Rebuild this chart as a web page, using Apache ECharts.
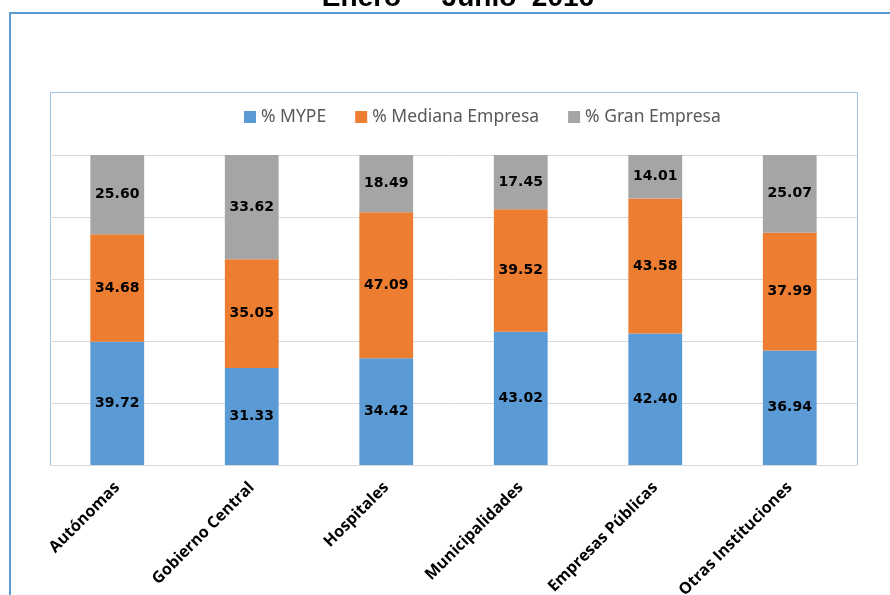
<!DOCTYPE html>
<html>
<head>
<meta charset="utf-8">
<script src="https://cdn.jsdelivr.net/npm/echarts@6/dist/echarts.min.js"></script>
<style>html,body{margin:0;padding:0;background:#fff}#c{width:890px;height:595px}</style>
</head>
<body>
<div id="c"></div>
<script>
var categories = ['Autónomas', 'Gobierno Central', 'Hospitales', 'Municipalidades', 'Empresas Públicas', 'Otras Instituciones'];
var mype = [39.72, 31.33, 34.42, 43.02, 42.40, 36.94];
var mediana = [34.68, 35.05, 47.09, 39.52, 43.58, 37.99];
var gran = [25.60, 33.62, 18.49, 17.45, 14.01, 25.07];
var seriesNames = ['% MYPE', '% Mediana Empresa', '% Gran Empresa'];
var titleText = 'Enero  -  Junio  2016';

var chart = echarts.init(document.getElementById('c'));
var labelStyle = {
  show: true, position: 'inside', color: '#000', fontWeight: 'bold',
  fontFamily: 'DejaVu Sans', fontSize: 14,
  formatter: function (p) { return p.value.toFixed(2); }
};
function mk(name, data, color) {
  return { name: name, type: 'bar', stack: 'total', data: data, barWidth: '40%',
    itemStyle: { color: color }, label: labelStyle };
}
chart.setOption({
  animation: false,
  graphic: [
    { type: 'rect', shape: { x: 10, y: 13, width: 900, height: 600 }, style: { fill: 'none', stroke: '#5b9bd5', lineWidth: 2 }, z: -1 },
    { type: 'polyline', shape: { points: [[50.5, 465], [50.5, 92.5], [857.5, 92.5], [857.5, 465]] }, style: { fill: 'none', stroke: '#9dc3e6', lineWidth: 1 }, z: -1 },
    { type: 'text', style: { text: titleText, x: 458, y: -16, textAlign: 'center', textVerticalAlign: 'top', fontFamily: 'Liberation Sans', fontWeight: 'bold', fontSize: 28, fill: '#000' } }
  ],
  legend: {
    data: seriesNames, left: 239, top: 103, itemWidth: 12, itemHeight: 12, itemGap: 29,
    icon: 'rect',
    textStyle: { color: '#595959', fontSize: 17.5, fontFamily: 'Noto Sans' }
  },
  grid: { left: 50, right: 33, top: 155, bottom: 130, outerBoundsMode: 'none', containLabel: false },
  xAxis: {
    type: 'category', data: categories,
    axisLine: { lineStyle: { color: '#d9d9d9', width: 1 } },
    axisTick: { show: false },
    axisLabel: { rotate: 45, margin: 20, color: '#000', fontWeight: 'bold', fontSize: 16, fontFamily: 'Open Sans', interval: 0 }
  },
  yAxis: {
    type: 'value', min: 0, max: 100, interval: 20,
    axisLabel: { show: false }, axisLine: { show: false }, axisTick: { show: false },
    splitLine: { lineStyle: { color: '#d9d9d9' } }
  },
  series: [
    mk(seriesNames[0], mype, '#5b9bd5'),
    mk(seriesNames[1], mediana, '#ed7d31'),
    mk(seriesNames[2], gran, '#a5a5a5')
  ]
});
</script>
</body>
</html>
